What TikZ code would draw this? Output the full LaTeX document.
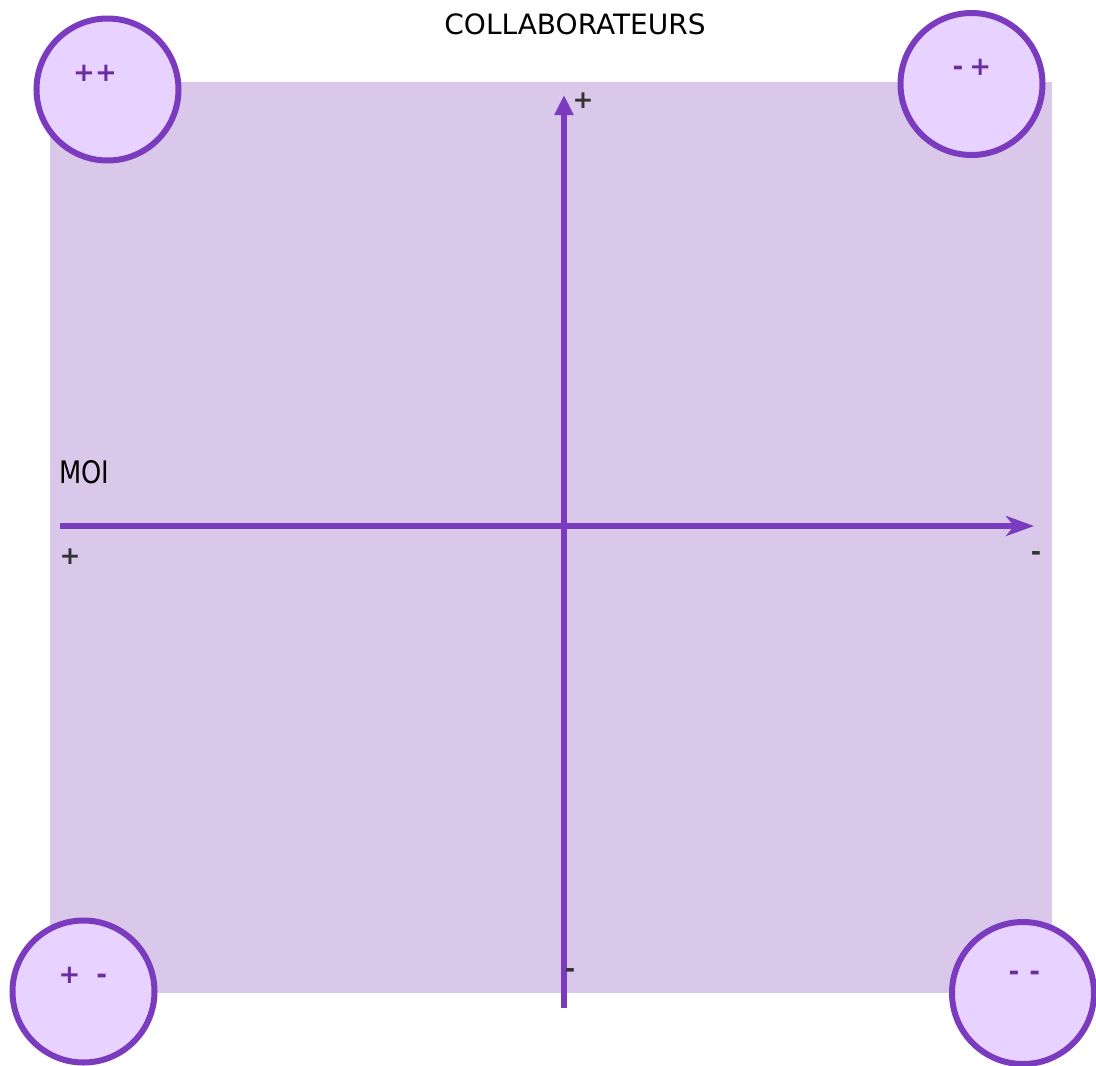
\documentclass[tikz,border=0pt]{standalone}
\usepackage{fontspec}
\setmainfont{DejaVu Sans}
\usetikzlibrary{arrows.meta}
\definecolor{bgpurple}{HTML}{D9C8EA}
\definecolor{circfill}{HTML}{E8D2FF}
\definecolor{strokepurple}{HTML}{7B3BBF}
\definecolor{labpurple}{HTML}{6A2E9E}
\definecolor{darkgray}{HTML}{333333}
\tikzset{
  quad/.style={circle, draw=strokepurple, fill=circfill, line width=6pt, minimum size=142pt, inner sep=0pt},
  quadlab/.style={text=labpurple, font=\bfseries\fontsize{26}{28}\selectfont, inner sep=0pt},
  axis/.style={draw=strokepurple, line width=5.5pt},
  sign/.style={text=darkgray, font=\bfseries\fontsize{25}{27}\selectfont, inner sep=0pt},
  title/.style={text=black, font=\fontsize{28}{30}\selectfont, inner sep=0pt}
}
\begin{document}
\begin{tikzpicture}[x=1pt,y=-1pt]
\useasboundingbox (0,0) rectangle (1096,1066);
\fill[white] (0,0) rectangle (1096,1066);
\fill[bgpurple] (50,82) rectangle (1052,993);
% axes
\coordinate (hstart) at (60,526);
\coordinate (hend) at (1034,526);
\coordinate (vstart) at (564,1008);
\coordinate (vend) at (564,95);
\draw[axis, -{Stealth[length=28pt,width=20pt,inset=8pt]}] (hstart) -- (hend);
\draw[axis, -{Triangle[length=20pt,width=18pt]}] (vstart) -- (vend);
% circles
\node[quad] (tl) at (107.5,89.5) {};
\node[quad] (tr) at (971.5,84) {};
\node[quad] (bl) at (83.5,991.5) {};
\node[quad] (br) at (1023,993) {};
\node[quadlab] (tllab) at (95,73) {++};
\node[quadlab] (trlab) at (972,67) {-\hspace{6pt}+};
\node[quadlab] (bllab) at (83,975) {+\hspace{16pt}-};
\node[quadlab] (brlab) at (1024.5,976) {-\hspace{10pt}-};
% texts
\node[title] (collab) at (575,24) {COLLABORATEURS};
\node[title, anchor=west, font=\fontsize{31}{33}\selectfont, xscale=0.83] (moi) at (59,472) {MOI};
\node[sign] (vplus) at (583,101) {+};
\node[sign] (hplus) at (70,557) {+};
\node[sign] (hminus) at (1036,556) {-};
\node[sign] (vminus) at (570,973) {-};
\end{tikzpicture}
\end{document}
